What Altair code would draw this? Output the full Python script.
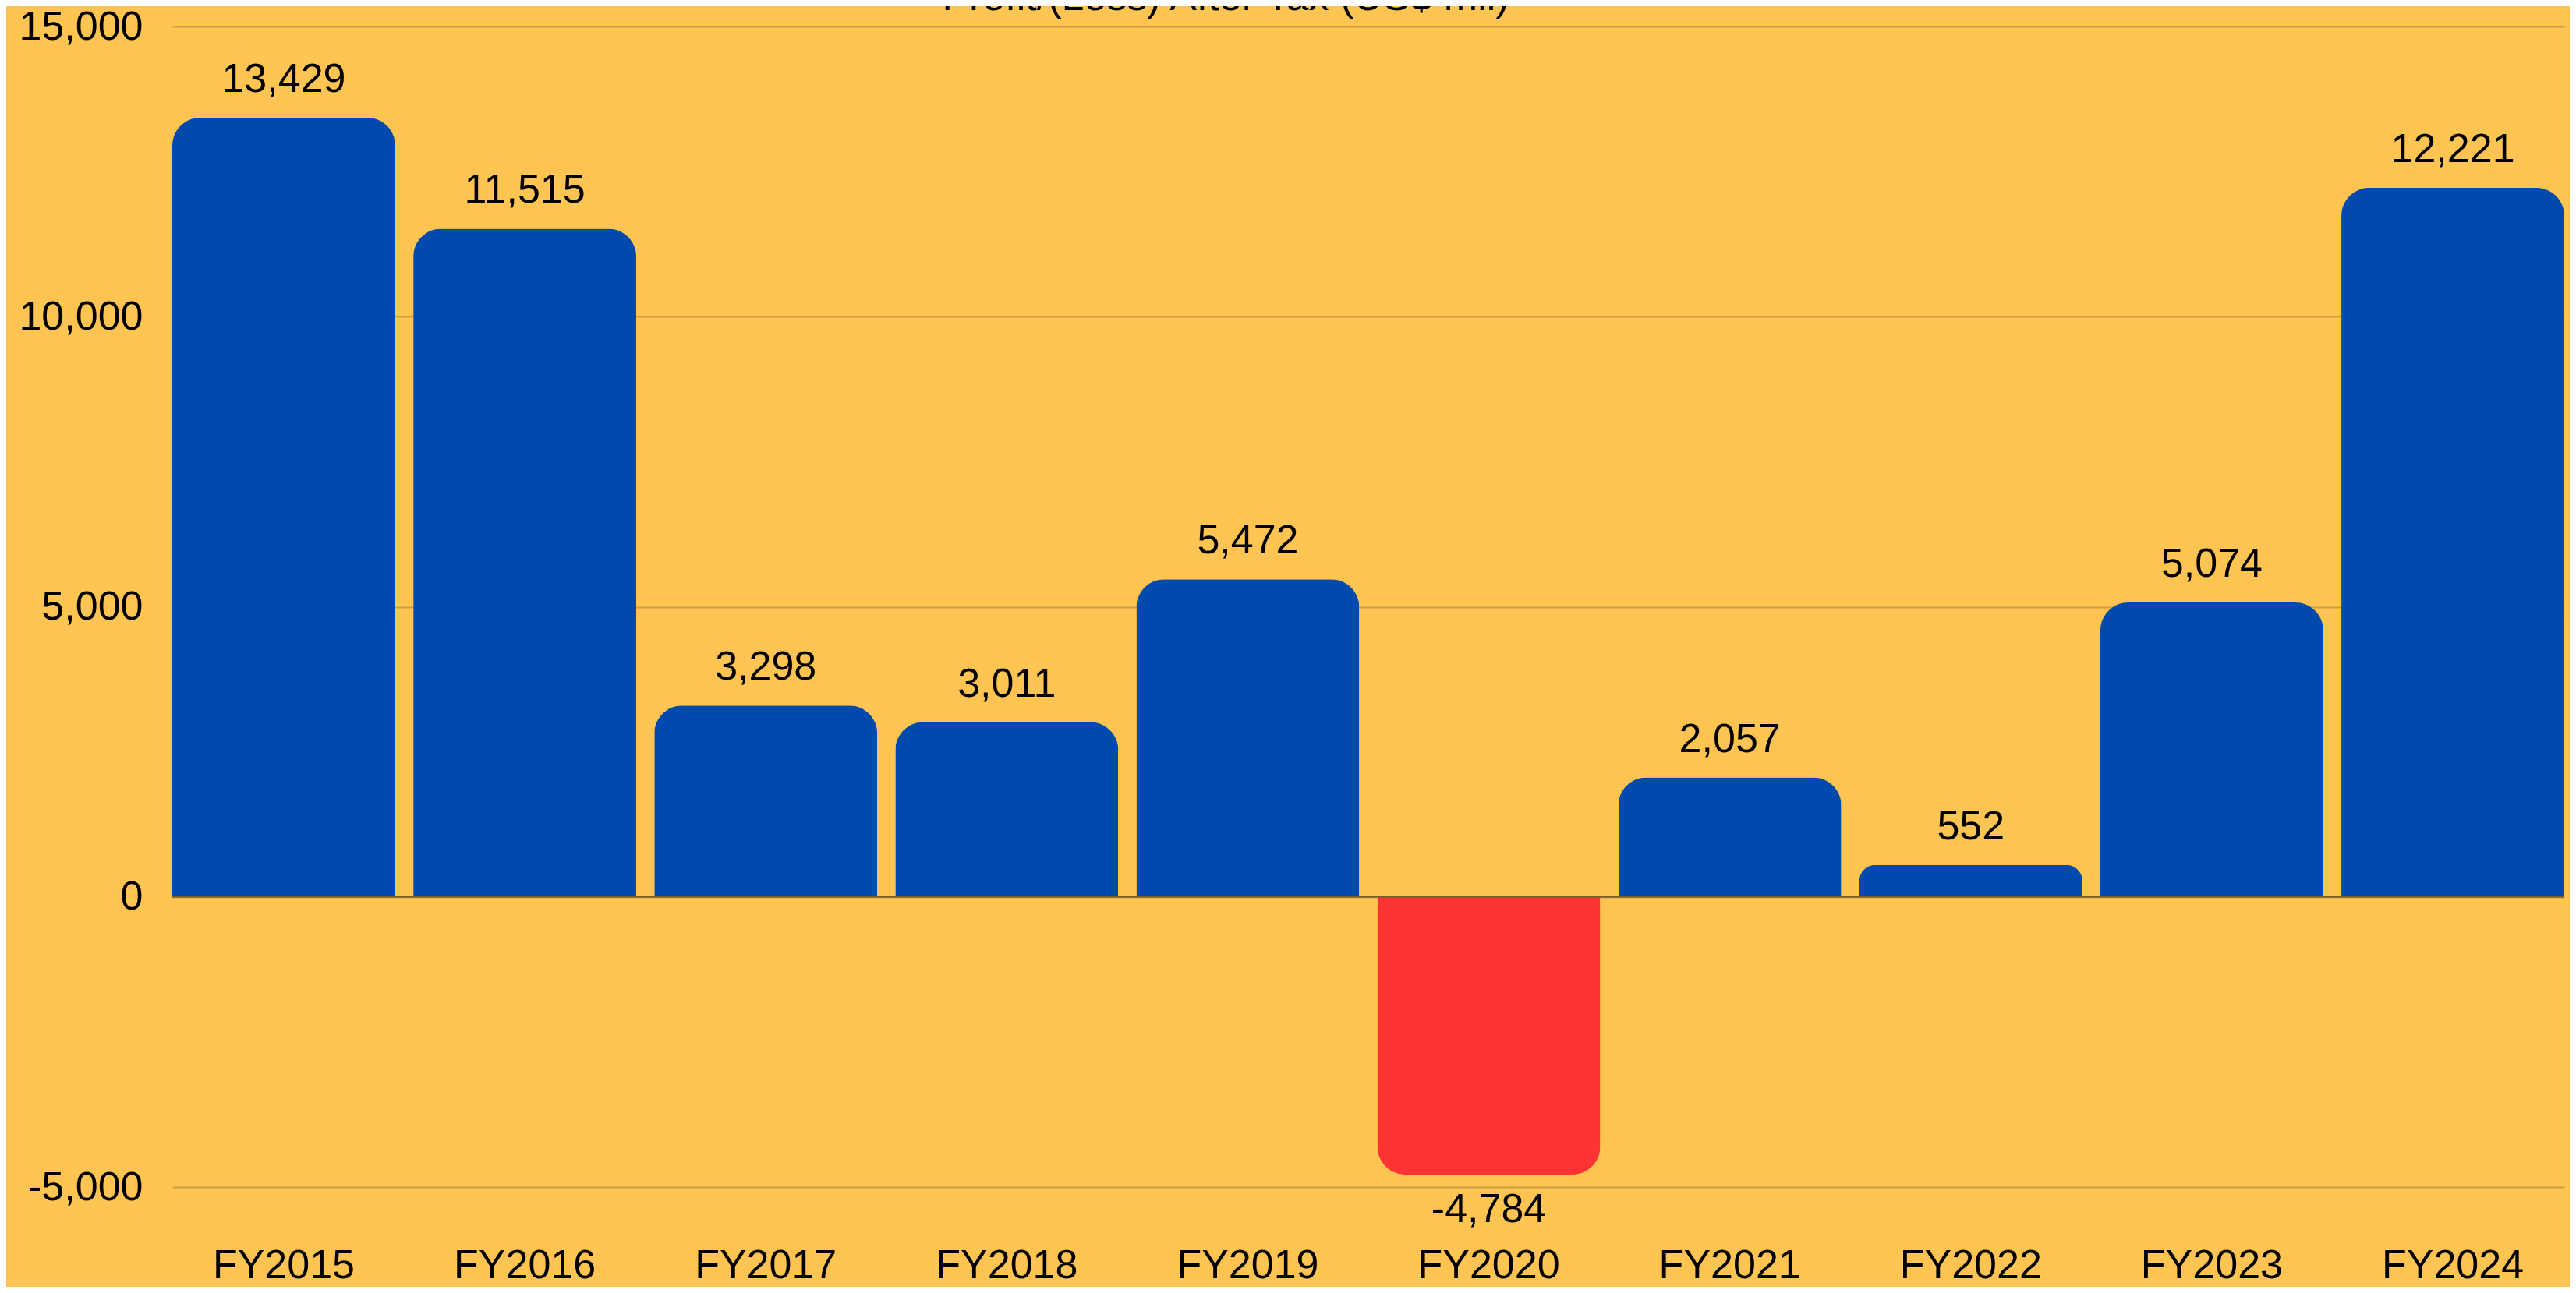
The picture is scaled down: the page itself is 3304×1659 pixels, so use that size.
import altair as alt
import pandas as pd

years = ["FY2015", "FY2016", "FY2017", "FY2018", "FY2019",
         "FY2020", "FY2021", "FY2022", "FY2023", "FY2024"]
profit = [13429, 11515, 3298, 3011, 5472, -4784, 2057, 552, 5074, 12221]
y_ticks = [-5000, 0, 5000, 10000, 15000]
title_text = ["Profit/(Loss) After Tax (US$ mil)"]

BG = "#FFC451"
BLUE = "#004AAD"
RED = "#FF3333"
GRID = "#CF9F48"
FONT = "Liberation Sans"
FS = 52
R = 36

df = pd.DataFrame({"year": years, "profit": profit})
df["label"] = [f"{v:,}" for v in profit]

YDOM = [-5000, 15000]

x_enc = alt.X(
    "year:N",
    sort=years,
    title=None,
    scale=alt.Scale(paddingInner=0.075, paddingOuter=0),
    axis=alt.Axis(
        labelAngle=0,
        labelFont=FONT,
        labelFontSize=FS,
        labelColor="#000000",
        labelBaseline="alphabetic",
        labelPadding=116,
        labelLimit=0,
        ticks=False,
        tickSize=0,
        domain=False,
        grid=False,
    ),
)

y_enc = alt.Y(
    "profit:Q",
    title=None,
    scale=alt.Scale(domain=YDOM, nice=False, zero=True),
    axis=alt.Axis(
        values=y_ticks,
        labelExpr="datum.value < 0 ? '-' + format(-datum.value, ',') : format(datum.value, ',')",
        labelFont=FONT,
        labelFontSize=FS,
        labelColor="#000000",
        labelPadding=38,
        ticks=False,
        tickSize=0,
        domain=False,
        grid=True,
        gridColor=GRID,
        gridWidth=2,
    ),
)

base = alt.Chart(df)

pos_bars = base.transform_filter("datum.profit >= 0").mark_bar(
    color=BLUE, cornerRadiusTopLeft=R, cornerRadiusTopRight=R
).encode(x=x_enc, y=y_enc)

neg_bars = base.transform_filter("datum.profit < 0").mark_bar(
    color=RED, cornerRadiusBottomLeft=R, cornerRadiusBottomRight=R
).encode(x=alt.X("year:N", sort=years), y=alt.Y("profit:Q"))

zero = alt.Chart(pd.DataFrame({"z": [0]})).mark_rule(
    color="#7A5E2C", strokeWidth=2
).encode(y=alt.Y("z:Q"))

pos_labels = base.transform_filter("datum.profit >= 0").mark_text(
    font=FONT, fontSize=FS, color="#000000", baseline="alphabetic", dy=-33
).encode(x=alt.X("year:N", sort=years), y="profit:Q", text="label:N")

neg_labels = base.transform_filter("datum.profit < 0").mark_text(
    font=FONT, fontSize=FS, color="#000000", baseline="alphabetic", dy=61
).encode(x=alt.X("year:N", sort=years), y="profit:Q", text="label:N")

title = alt.Chart(pd.DataFrame({"t": title_text})).mark_text(
    font=FONT, fontSize=FS, color="#000000", baseline="alphabetic", align="center"
).encode(x=alt.value(1351), y=alt.value(-21), text="t:N")

chart = (
    alt.layer(pos_bars, neg_bars, zero, pos_labels, neg_labels, title)
    .resolve_scale(y="shared", x="shared")
    .properties(
        width=3068,
        height=1489,
        background=BG,
        autosize=alt.AutoSizeParams(type="none"),
        padding={"left": 213, "top": 26, "right": 7, "bottom": 128},
    )
    .configure_view(stroke=None)
)

chart.save("out.html", embed_options={"renderer": "svg", "actions": False})
